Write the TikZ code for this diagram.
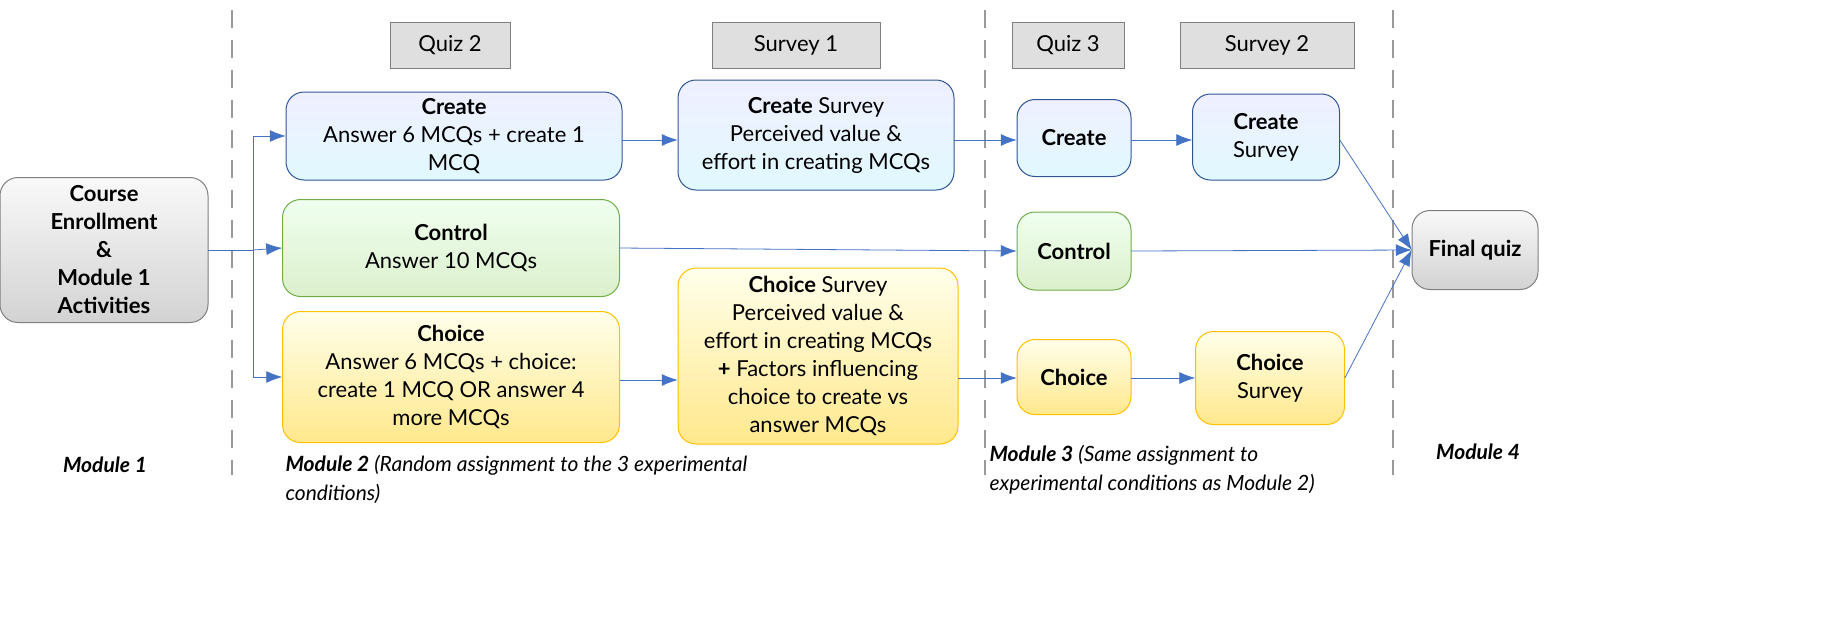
\documentclass[tikz,border=0pt]{standalone}
\usepackage{fontspec}
\setmainfont{Lato}
\usetikzlibrary{positioning, calc, arrows.meta}

\definecolor{bluebd}{HTML}{2F5597}
\definecolor{greenbd}{HTML}{70AD47}
\definecolor{yellowbd}{HTML}{FFC000}
\definecolor{graybd}{HTML}{7F7F7F}
\definecolor{arr}{HTML}{4472C4}

\tikzset{
  box/.style={draw, rounded corners=9pt, align=center, line width=0.5pt, inner sep=2pt},
  bluebox/.style={box, draw=bluebd, top color=blue!6, bottom color=blue!22!cyan!12},
  greenbox/.style={box, draw=greenbd, top color=green!6, bottom color=green!40!olive!20},
  yellowbox/.style={box, draw=yellowbd, top color=yellow!8, bottom color=yellow!60!orange!45},
  graybox/.style={box, draw=graybd, top color=gray!5, bottom color=gray!35},
  head/.style={draw=graybd, line width=0.5pt, fill=gray!25, minimum height=46pt, font=\fontsize{22}{26}\selectfont},
  modlabel/.style={font=\fontsize{21}{29}\selectfont\itshape, align=left},
  link/.style={draw=arr, line width=0.4pt, -{Latex[length=8pt,width=6pt]}},
  sep/.style={draw=gray!80, line width=1pt, dash pattern=on 9pt off 6pt}
}

\begin{document}
\begin{tikzpicture}[x=1pt, y=-1pt, scale=0.5, transform shape, font=\fontsize{22}{28}\selectfont]
  % separators
  \draw[sep] (232,10) -- (232,475);
  \draw[sep] (985,10) -- (985,475);
  \draw[sep] (1393,10) -- (1393,475);

  % headers
  \node[head, minimum width=120pt] (q2) at (450,45) {Quiz 2};
  \node[head, minimum width=168pt] (s1) at (796,45) {Survey 1};
  \node[head, minimum width=112pt] (q3) at (1068,45) {Quiz 3};
  \node[head, minimum width=174pt] (s2) at (1267,45) {Survey 2};

  % module 1
  \node[graybox, minimum width=208pt, minimum height=145pt] (course) at (104,250)
    {\textbf{Course}\\\textbf{Enrollment}\\\textbf{\&}\\\textbf{Module 1}\\\textbf{Activities}};

  % module 2 quiz
  \node[bluebox, minimum width=336pt, minimum height=88pt] (create) at (454,136)
    {\textbf{Create}\\Answer 6 MCQs + create 1\\MCQ};
  \node[greenbox, minimum width=337pt, minimum height=97pt] (control) at (451,248)
    {\textbf{Control}\\Answer 10 MCQs};
  \node[yellowbox, minimum width=337pt, minimum height=131pt] (choice) at (451,377)
    {\textbf{Choice}\\Answer 6 MCQs + choice:\\create 1 MCQ OR answer 4\\more MCQs};

  % module 2 survey
  \node[bluebox, minimum width=276pt, minimum height=110pt] (createsv) at (816,135)
    {\textbf{Create} Survey\\Perceived value \&\\effort in creating MCQs};
  \node[yellowbox, minimum width=280pt, minimum height=176pt] (choicesv) at (818,356)
    {\textbf{Choice} Survey\\Perceived value \&\\effort in creating MCQs\\\textbf{+} Factors influencing\\choice to create vs\\answer MCQs};

  % module 3
  \node[bluebox, minimum width=114pt, minimum height=77pt] (createq) at (1074,138) {\textbf{Create}};
  \node[greenbox, minimum width=114pt, minimum height=78pt] (controlq) at (1074,251) {\textbf{Control}};
  \node[yellowbox, minimum width=114pt, minimum height=75pt] (choiceq) at (1074,377) {\textbf{Choice}};
  \node[bluebox, minimum width=147pt, minimum height=86pt] (createsv2) at (1266,137) {\textbf{Create}\\Survey};
  \node[yellowbox, minimum width=149pt, minimum height=93pt] (choicesv2) at (1270,378) {\textbf{Choice}\\Survey};

  % module 4
  \node[graybox, minimum width=126pt, minimum height=79pt] (final) at (1475,250) {\textbf{Final quiz}};

  % connectors
  \coordinate (split) at (253,250);
  \draw[draw=arr, line width=0.4pt] (course.east) -- (split);
  \draw[link] (split) |- (create.west);
  \draw[link] (split) -- (control.west);
  \draw[link] (split) |- (choice.west);
  \draw[link] (create.east |- 0,140) -- (createsv.west |- 0,140);
  \draw[link] (choice.east |- 0,380) -- (choicesv.west |- 0,380);
  \draw[link] (createsv.east |- 0,140) -- (createq.west |- 0,140);
  \draw[link] (control.east) -- (controlq.west);
  \draw[link] (choicesv.east |- 0,378) -- (choiceq.west |- 0,378);
  \draw[link] (createq.east |- 0,140) -- (createsv2.west |- 0,140);
  \draw[link] (choiceq.east |- 0,378) -- (choicesv2.west |- 0,378);
  \draw[link] (controlq.east) -- (final.west);
  \draw[link] (createsv2.east |- 0,140) -- (final.west);
  \draw[link] (choicesv2.east |- 0,378) -- (final.west);

  % module labels
  \node[modlabel, font=\fontsize{21}{29}\selectfont\bfseries\itshape] (m1) at (105,465) {Module 1};
  \node[modlabel, anchor=north west] (m2) at (282,452)
    {\textbf{Module 2} (Random assignment to the 3 experimental\\conditions)};
  \node[modlabel, anchor=north west] (m3) at (986,442)
    {\textbf{Module 3} (Same assignment to\\experimental conditions as Module 2)};
  \node[modlabel, font=\fontsize{21}{29}\selectfont\bfseries\itshape] (m4) at (1478,452) {Module 4};

  \pgfresetboundingbox
  \path[use as bounding box] (0,0) rectangle (1845,618);
\end{tikzpicture}
\end{document}
